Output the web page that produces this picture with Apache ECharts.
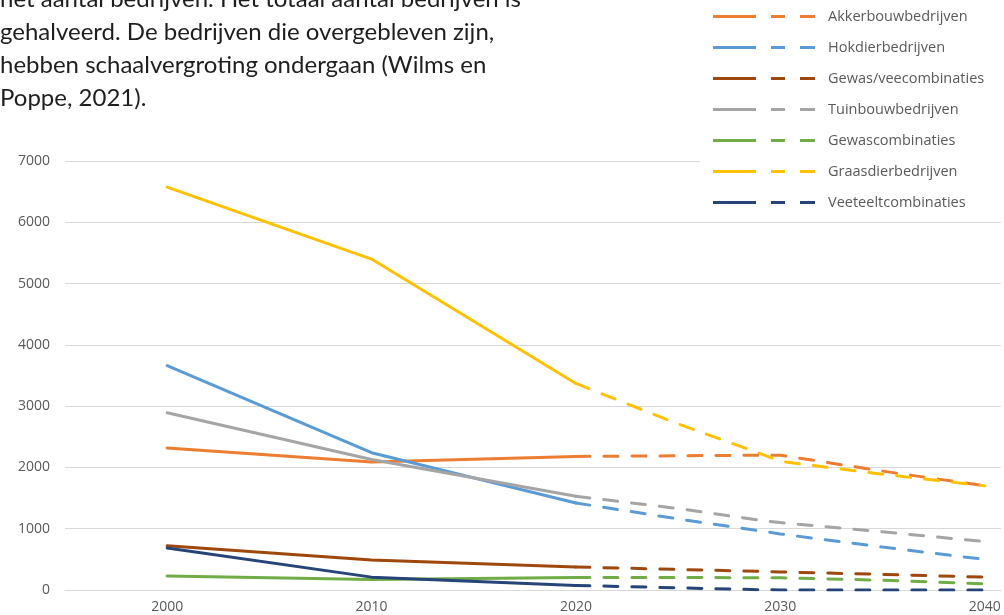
<!DOCTYPE html>
<html>
<head>
<meta charset="utf-8">
<script src="https://cdn.jsdelivr.net/npm/echarts@6/dist/echarts.min.js"></script>
<style>
    html, body {margin: 0; padding: 0; background: #fff;}
    #main {width: 1004px; height: 615px;}
</style>
</head>
<body>
<div id="main"></div>
<script>
// categorieën (bedrijfstypen)
var categories = ['Akkerbouwbedrijven', 'Hokdierbedrijven', 'Gewas/veecombinaties', 'Tuinbouwbedrijven',
    'Gewascombinaties', 'Graasdierbedrijven', 'Veeteeltcombinaties'];
var colors = ['#ED7D31', '#5B9BD5', '#9E480E', '#A5A5A5', '#70AD47', '#FFC000', '#264478'];

// gemeten jaren (doorgetrokken lijn)
var solidYears = [2000, 2010, 2020];
var akkerSolid = [2316, 2090, 2180];
var hokdierSolid = [3660, 2240, 1420];
var gewasVeeSolid = [723, 490, 375];
var tuinbouwSolid = [2893, 2130, 1530];
var gewasSolid = [230, 170, 205];
var graasdierSolid = [6574, 5400, 3370];
var veeteeltSolid = [685, 210, 75];

// prognose (stippellijn)
var projYears = [2020, 2025, 2029, 2030, 2035, 2040];
var akkerProj = [2180, 2190, 2200, 2200, 1940, 1700];
var hokdierProj = [1420, 1160, 965, 915, 700, 500];
var gewasVeeProj = [375, 335, 305, 295, 255, 210];
var tuinbouwProj = [1530, 1330, 1140, 1100, 950, 790];
var gewasProj = [205, 205, 200, 200, 160, 100];
var graasdierProj = [3370, 2710, 2230, 2100, 1890, 1700];
var veeteeltProj = [75, 35, 5, 0, 0, 0];

var yTicks = [0, 1000, 2000, 3000, 4000, 5000, 6000, 7000];
var xTicks = [2000, 2010, 2020, 2030, 2040];

var paragraph = [
    'het aantal bedrijven. Het totaal aantal bedrijven is',
    'gehalveerd. De bedrijven die overgebleven zijn,',
    'hebben schaalvergroting ondergaan (Wilms en',
    'Poppe, 2021).'
];

var solidData = [akkerSolid, hokdierSolid, gewasVeeSolid, tuinbouwSolid, gewasSolid, graasdierSolid, veeteeltSolid];
var projData = [akkerProj, hokdierProj, gewasVeeProj, tuinbouwProj, gewasProj, graasdierProj, veeteeltProj];

function pairs(years, values) {
    var res = [];
    for (var i = 0; i < years.length; i++) {
        res.push([years[i], values[i]]);
    }
    return res;
}

var series = [];
for (var i = 0; i < categories.length; i++) {
    series.push({
        name: categories[i],
        type: 'line',
        data: pairs(solidYears, solidData[i]),
        showSymbol: false,
        color: colors[i],
        itemStyle: {color: colors[i]},
        lineStyle: {width: 3, color: colors[i], cap: 'round', join: 'round'}
    });
    series.push({
        name: categories[i],
        type: 'line',
        data: pairs(projYears, projData[i]),
        showSymbol: false,
        color: colors[i],
        itemStyle: {color: colors[i]},
        lineStyle: {width: 3, color: colors[i], type: [14, 14], cap: 'round'}
    });
}

// legenda-icoon: doorgetrokken stuk + twee streepjes
var legendIcon = 'path://M0,0H43V3H0Z M58,0H72V3H58Z M87,0H102V3H87Z';

var myChart = echarts.init(document.getElementById('main'));
var option = {
    animation: false,
    backgroundColor: '#fff',
    textStyle: {fontFamily: 'Open Sans'},
    grid: {left: 65, right: 0, top: 161, bottom: 25},
    legend: {
        orient: 'vertical',
        left: 700,
        top: 0,
        padding: [9, 20, 10, 13],
        backgroundColor: '#fff',
        itemWidth: 102,
        itemHeight: 3,
        itemGap: 16,
        icon: legendIcon,
        data: categories,
        textStyle: {color: '#595959', fontSize: 14.5, lineHeight: 15, padding: [0, 0, 0, 8], fontFamily: 'Open Sans'}
    },
    xAxis: {
        type: 'value',
        min: 1995,
        max: 2040.8,
        interval: 5,
        axisLine: {lineStyle: {color: '#d9d9d9', width: 1}},
        axisTick: {show: false},
        splitLine: {show: false},
        axisLabel: {
            color: '#595959',
            fontSize: 14,
            margin: 10,
            formatter: function (v) {
                return xTicks.indexOf(v) >= 0 ? String(v) : '';
            }
        }
    },
    yAxis: {
        type: 'value',
        min: yTicks[0],
        max: yTicks[yTicks.length - 1],
        interval: 1000,
        axisLine: {show: false},
        axisTick: {show: false},
        splitLine: {lineStyle: {color: '#d9d9d9', width: 1}},
        axisLabel: {
            color: '#595959',
            fontSize: 14,
            margin: 15,
            formatter: function (v) {
                return String(v);
            }
        }
    },
    graphic: [{
        type: 'text',
        left: 0,
        top: -17,
        style: {
            text: paragraph.join('\n'),
            fill: '#1e1e1e',
            font: '24px Lato',
            lineHeight: 33
        }
    }],
    series: series
};
myChart.setOption(option);
</script>
</body>
</html>
